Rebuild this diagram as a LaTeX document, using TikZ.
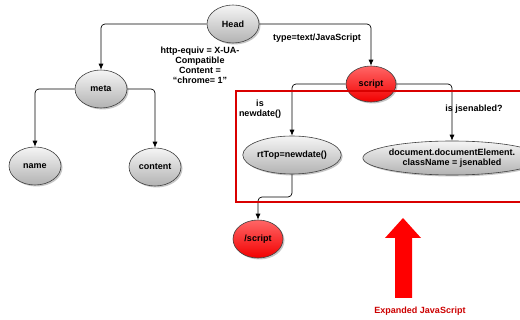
\documentclass[tikz,border=0pt]{standalone}
\usepackage{fontspec}
\setmainfont{Liberation Sans}
\usepackage{tikz}
\usetikzlibrary{shapes.geometric,shadows,arrows.meta}

\tikzset{
  tag/.style={ellipse,draw=black!75,line width=.6pt,inner sep=0pt,
    top color=gray!8,bottom color=gray!60,
    drop shadow={opacity=.45,shadow xshift=1.5pt,shadow yshift=-1.5pt},
    font=\bfseries\fontsize{9}{10}\selectfont,
    minimum width=52pt,minimum height=38pt},
  redtag/.style={tag,top color=red!60,bottom color=red!95!black},
  link/.style={draw,line width=.7pt,rounded corners=4pt,-{Latex[length=6pt,width=5pt]}},
  lbl/.style={font=\bfseries\fontsize{9}{10}\selectfont,align=center,inner sep=0pt}
}

\begin{document}
\begin{tikzpicture}[x=1pt,y=-1pt]
  \useasboundingbox (0,0) rectangle (520,320);
  \def\jsbox{(236,91) rectangle (523,202)}

  \node[tag] (head) at (233,24) {Head};
  \node[tag] (meta) at (101,89) {meta};
  \node[tag] (name) at (35,166) {name};
  \node[tag] (content) at (155,167) {content};
  \node[redtag,minimum width=50pt,minimum height=36pt] (script) at (371,84) {script};
  \node[tag,minimum width=76pt] (rttop) at (292,155) {rtTop=newdate()};
  \node[tag,minimum width=136pt,minimum height=34pt,align=center] (docel) at (452,158)
    {document.documentElement.\\className = jsenabled};
  \node[redtag,minimum width=50pt] (endscript) at (258,239) {/script};

  % tree links
  \draw[link] (head.west) -| (meta.north);
  \draw[link] (head.east) -| (script.north);
  \draw[link] (meta.west) -| (name.north);
  \draw[link] (meta.east) -| (content.north);
  \draw[link] (script.west) -| (rttop.north);
  \draw[link] (script.east) -| (docel.north);
  \coordinate (bend) at (292,197);
  \draw[link] (rttop.south) -- (bend) -| (endscript.north);

  \node[lbl] (equiv) at (200,65) {http-equiv = X-UA-\\Compatible\\Content =\\``chrome= 1''};
  \node[lbl] (type) at (317,38) {type=text/JavaScript};
  \node[lbl] (isnew) at (260,109) {is\\newdate()};
  \node[lbl] (isjs) at (474,109) {is jsenabled?};

  % expanded part
  \draw[red!85!black,line width=1.6pt] \jsbox;
  \fill[red] (395,298) -- (395,238) -- (385,238) -- (403,218) -- (421,238)
    -- (412,238) -- (412,298) -- cycle;
  \node[lbl,text=red!80!black] (expanded) at (420,311) {Expanded JavaScript};
\end{tikzpicture}
\end{document}
